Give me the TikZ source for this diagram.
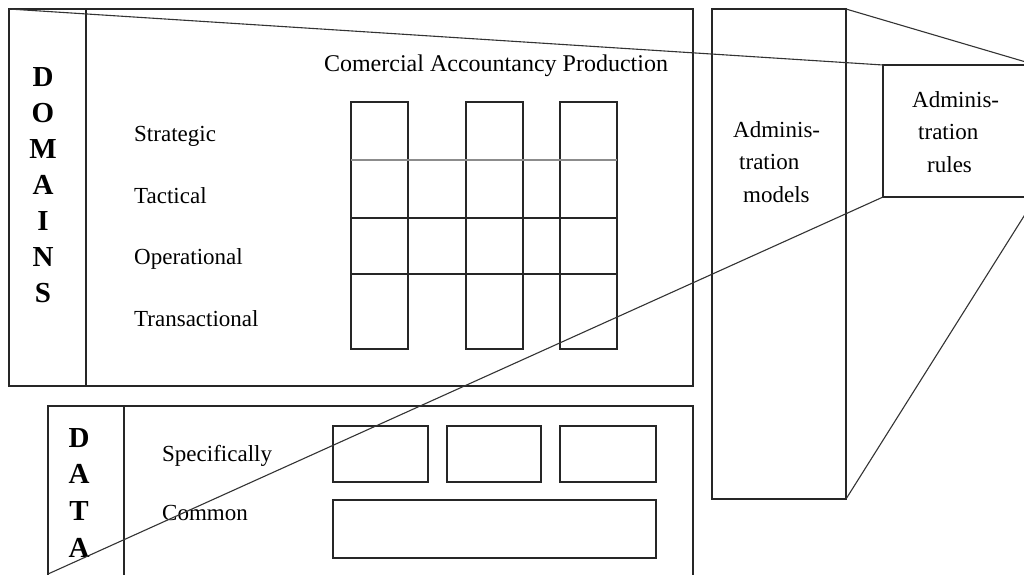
\documentclass[tikz,border=0pt]{standalone}
\usepackage{fontspec}
\setmainfont{Liberation Serif}
\begin{document}
\begin{tikzpicture}[x=1pt,y=-1pt,
  box/.style={draw=black!85, line width=1.3pt, rectangle, inner sep=0pt, outer sep=0pt, anchor=north west},
  lbl/.style={font=\fontsize{23}{28}\selectfont, inner sep=0pt, anchor=base west},
  bigl/.style={font=\bfseries\fontsize{29}{36}\selectfont, inner sep=0pt, anchor=base},
  rule/.style={draw=black!85, line width=1.3pt},
  proj/.style={draw=black!80, line width=1.1pt}]
\useasboundingbox (0,0) rectangle (1024,574);
\clip (0,0) rectangle (1024,574);
\fill[white] (0,0) rectangle (1024,574);

% DOMAINS block
\node[box, minimum width=684pt, minimum height=377pt] (dom) at (9,9) {};
\draw[rule] (86,9) -- (86,386);
\foreach \l [count=\i] in {D,O,M,A,I,N,S}
  \node[bigl] (domL\i) at (43,{86+36*(\i-1)}) {\l};

\node[lbl, anchor=base, font=\fontsize{24}{28}\selectfont] (title) at (496,71) {Comercial Accountancy Production};
\node[lbl] (strat) at (134,141) {Strategic};
\node[lbl] (tact) at (134,203) {Tactical};
\node[lbl] (oper) at (134,264) {Operational};
\node[lbl] (trans) at (134,326) {Transactional};

% grid columns
\node[box, minimum width=57pt, minimum height=247pt] (col1) at (351,102) {};
\node[box, minimum width=57pt, minimum height=247pt] (col2) at (466,102) {};
\node[box, minimum width=57pt, minimum height=247pt] (col3) at (560,102) {};
\draw[draw=black!45, line width=1.3pt] (351,160) -- (617,160);
\draw[rule] (351,218) -- (617,218);
\draw[rule] (351,274) -- (617,274);

% DATA block
\node[box, minimum width=645pt, minimum height=200pt] (data) at (48,406) {};
\draw[rule] (124,406) -- (124,600);
\foreach \l [count=\i] in {D,A,T,A}
  \node[bigl] (dataL\i) at (79,{447+36.7*(\i-1)}) {\l};
\node[lbl] (spec) at (162,461) {Specifically};
\node[lbl] (common) at (162,520) {Common};
\node[box, minimum width=95pt, minimum height=56pt] (s1) at (333,426) {};
\node[box, minimum width=94pt, minimum height=56pt] (s2) at (447,426) {};
\node[box, minimum width=96pt, minimum height=56pt] (s3) at (560,426) {};
\node[box, minimum width=323pt, minimum height=58pt] (com) at (333,500) {};

% Administration models
\node[box, minimum width=134pt, minimum height=490pt] (models) at (712,9) {};
\node[lbl] (m1) at (733,137) {Adminis-};
\node[lbl] (m2) at (739,169) {tration};
\node[lbl] (m3) at (743,202) {models};

% Administration rules
\node[box, minimum width=153pt, minimum height=132pt] (rules) at (883,65) {};
\node[lbl] (r1) at (912,107) {Adminis-};
\node[lbl] (r2) at (918,139) {tration};
\node[lbl] (r3) at (927,172) {rules};

% projection lines
\coordinate (dataend) at (48,574);
\draw[proj] (dom.north west) -- (rules.north west);
\draw[proj] (rules.south west) -- (dataend);
\draw[proj] (models.north east) -- (rules.north east);
\draw[proj] (models.south east) -- (rules.south east);
\end{tikzpicture}
\end{document}
